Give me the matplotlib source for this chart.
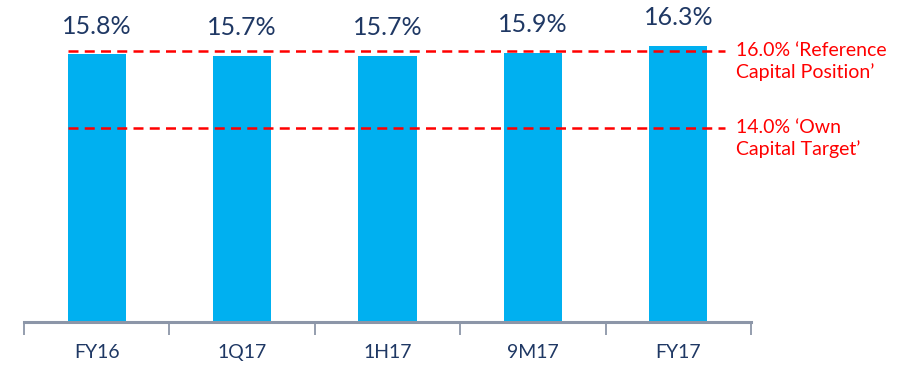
import matplotlib
matplotlib.use("Agg")
import matplotlib.pyplot as plt

# ---------------------------------------------------------------------------
# Data
# ---------------------------------------------------------------------------
periods = ["FY16", "1Q17", "1H17", "9M17", "FY17"]
ratios = [15.8, 15.7, 15.7, 15.9, 16.3]
ratio_labels = ["15.8%", "15.7%", "15.7%", "15.9%", "16.3%"]

threshold_labels = ["16.0% \u2018Reference\nCapital Position\u2019",
                    "14.0% \u2018Own\nCapital Target\u2019"]
# where the dashed lines sit on the bar scale (as drawn in the reference)
threshold_levels = [16.0, 11.45]

BAR = "#00B0F0"
NAVY = "#1F3864"
RED = "#FF0000"
AXIS = "#8C96A8"

plt.rcParams["font.family"] = ["Lato", "DejaVu Sans"]

fig = plt.figure(figsize=(9.12, 3.71), dpi=100)
ax = fig.add_axes([24 / 912, 49 / 371, 727 / 912, 322 / 371])

x = list(range(len(periods)))
ax.bar(x, ratios, width=0.4, color=BAR, zorder=2)

for xi, v, lab in zip(x, ratios, ratio_labels):
    ax.annotate(lab, (xi, v), xytext=(0, 12), textcoords="offset points",
                ha="center", va="bottom", fontsize=18, color=NAVY)

# dashed reference lines + labels on the right
for lvl, lab in zip(threshold_levels, threshold_labels):
    ax.hlines(lvl, -0.2, 4.32, colors=RED, linestyles=(0, (4, 2.5)),
              linewidth=1.8, zorder=3)
    ax.text(4.4, lvl + 0.55, lab, ha="left", va="top", fontsize=14,
            color=RED, linespacing=1.3, clip_on=False)

ax.set_xlim(-0.5, 4.5)
ax.set_ylim(0, 19.0)

for side in ("left", "right", "top"):
    ax.spines[side].set_visible(False)
ax.spines["bottom"].set_color(AXIS)
ax.spines["bottom"].set_linewidth(2.2)

ax.set_yticks([])
ax.set_xticks(x)
ax.set_xticklabels(periods, fontsize=14, color=NAVY)
ax.tick_params(axis="x", which="major", length=0, pad=16)
ax.set_xticks([i - 0.5 for i in range(len(periods) + 1)], minor=True)
ax.tick_params(axis="x", which="minor", length=9, width=1.3, color=AXIS)

fig.savefig("out.png", dpi=100)
